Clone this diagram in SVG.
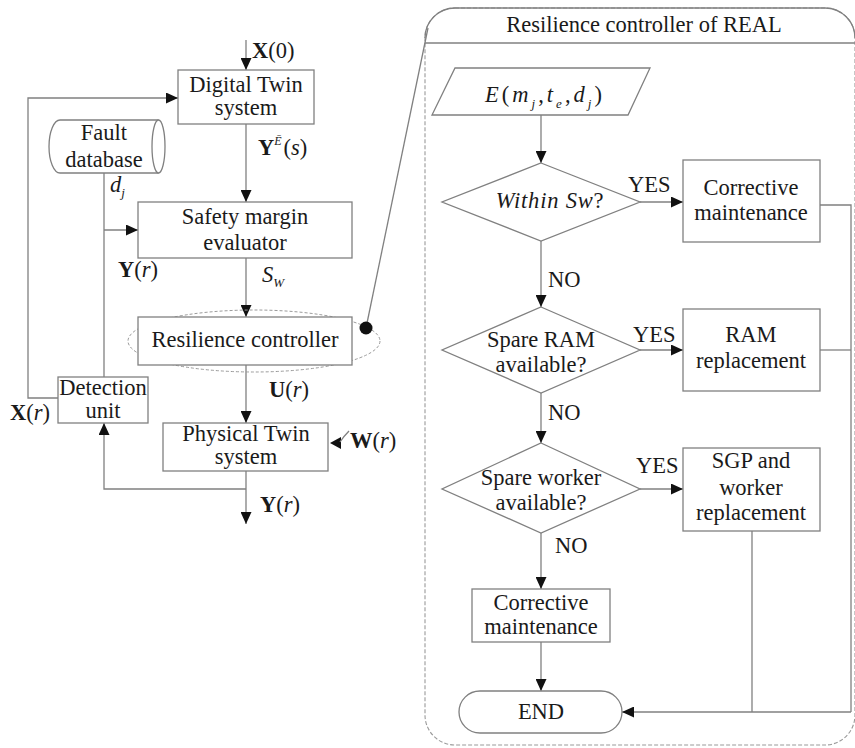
<svg xmlns="http://www.w3.org/2000/svg" width="855" height="748" viewBox="0 0 855 748" font-family="'Liberation Serif', 'DejaVu Serif', serif">
<defs>
  <marker id="arr" markerUnits="userSpaceOnUse" markerWidth="12" markerHeight="11" refX="12" refY="5.5" orient="auto">
    <path d="M0,0 L12,5.5 L0,11 z" fill="#111"/>
  </marker>
  <style>
    .box { fill: #fff; stroke: #808080; stroke-width: 1.3; }
    .ln { fill: none; stroke: #808080; stroke-width: 1.3; }
    .ar { fill: none; stroke: #808080; stroke-width: 1.3; marker-end: url(#arr); }
    text { font-family: 'Liberation Serif', 'DejaVu Serif', serif; font-size: 22.5px; fill: #1a1a1a; text-anchor: middle; }
    .s { text-anchor: start; }
    .b { font-weight: bold; }
    .i { font-style: italic; }
  </style>
</defs>
<rect width="855" height="748" fill="#fff"/>

<!-- controller panel frame -->
<g id="panel">
  <rect x="425" y="8" width="430" height="737" rx="30" ry="30" fill="none" stroke="#9a9a9a" stroke-width="1.1" stroke-dasharray="4,2"/>
  <path class="ln" d="M425,38 A30,30 0 0 1 455,8 H825 A30,30 0 0 1 855,38"/>
  <line class="ln" x1="425" y1="43" x2="855" y2="43"/>
  <text x="644" y="32">Resilience controller of REAL</text>
</g>

<!-- connectors -->
<g id="connectors">
  <line class="ar" x1="246" y1="40" x2="246" y2="70"/>
  <line class="ar" x1="246" y1="124" x2="246" y2="202"/>
  <line class="ar" x1="246" y1="258" x2="246" y2="317"/>
  <line class="ar" x1="246" y1="365" x2="246" y2="423"/>
  <line class="ar" x1="246" y1="471" x2="246" y2="524"/>
  <polyline class="ar" points="246,489 104,489 104,423"/>
  <polyline class="ar" points="58,398 28,398 28,98 178,98"/>
  <line class="ln" x1="104" y1="173" x2="104" y2="377"/>
  <line class="ar" x1="104" y1="230" x2="138" y2="230"/>
  <polygon points="330,443 341,437 341,449" fill="#111"/>
  <path class="ln" d="M340,442 Q344,436 349,431"/>
  <line class="ln" x1="366" y1="328" x2="428" y2="28"/>
  <line class="ar" x1="541" y1="115" x2="541" y2="163"/>
  <line class="ar" x1="541" y1="241" x2="541" y2="307"/>
  <line class="ar" x1="541" y1="393" x2="541" y2="443"/>
  <line class="ar" x1="541" y1="533" x2="541" y2="589"/>
  <line class="ar" x1="541" y1="642" x2="541" y2="691"/>
  <line class="ar" x1="640" y1="202" x2="683" y2="202"/>
  <line class="ar" x1="640" y1="350" x2="683" y2="350"/>
  <line class="ar" x1="640" y1="489" x2="683" y2="489"/>
  <polyline class="ln" points="820,205 851,205 851,712"/>
  <line class="ln" x1="820" y1="350" x2="851" y2="350"/>
  <line class="ln" x1="752" y1="531" x2="752" y2="712"/>
  <line class="ar" x1="851" y1="712" x2="622" y2="712"/>
</g>

<!-- edge labels -->
<g id="labels">
  <text class="s" x="252" y="58"><tspan class="b">X</tspan>(0)</text>
  <text class="s" x="258" y="155"><tspan class="b">Y</tspan><tspan class="i" font-size="12" dy="-10">Ē</tspan><tspan dy="10" dx="2">(</tspan><tspan class="i">s</tspan>)</text>
  <text class="s i" x="110" y="192">d<tspan font-size="13" dy="5">j</tspan></text>
  <text class="s" x="118" y="277"><tspan class="b">Y</tspan>(<tspan class="i">r</tspan>)</text>
  <text class="s i" x="262" y="282">S<tspan font-size="13" dy="5">W</tspan></text>
  <text class="s" x="269" y="397"><tspan class="b">U</tspan>(<tspan class="i">r</tspan>)</text>
  <text class="s" x="10" y="420"><tspan class="b">X</tspan>(<tspan class="i">r</tspan>)</text>
  <text class="s" x="350" y="448"><tspan class="b">W</tspan>(<tspan class="i">r</tspan>)</text>
  <text class="s" x="260" y="512"><tspan class="b">Y</tspan>(<tspan class="i">r</tspan>)</text>
  <text class="s" x="628" y="192">YES</text>
  <text class="s" x="633" y="342">YES</text>
  <text class="s" x="636" y="473">YES</text>
  <text class="s" x="548" y="287">NO</text>
  <text class="s" x="548" y="420">NO</text>
  <text class="s" x="555" y="553">NO</text>
</g>

<!-- left-side nodes -->
<g id="digital-twin">
  <rect class="box" x="178" y="70" width="136" height="54"/>
  <text x="246" y="92">Digital Twin</text>
  <text x="246" y="115">system</text>
</g>
<g id="fault-database">
  <path class="box" d="M60,120 H158 V173 H60 A11,26.5 0 0 1 60,120 z"/>
  <ellipse class="box" cx="158.5" cy="146.5" rx="6.5" ry="26.5"/>
  <text x="104" y="140">Fault</text>
  <text x="104" y="167">database</text>
</g>
<g id="safety-margin">
  <rect class="box" x="138" y="202" width="214" height="56"/>
  <text x="245" y="224">Safety margin</text>
  <text x="245" y="250">evaluator</text>
</g>
<g id="resilience-controller">
  <ellipse cx="254" cy="341" rx="126" ry="31" fill="none" stroke="#9a9a9a" stroke-width="1" stroke-dasharray="3,2"/>
  <rect class="box" x="138" y="317" width="214" height="48"/>
  <text x="245" y="347">Resilience controller</text>
</g>
<g id="detection-unit">
  <rect class="box" x="58" y="377" width="90" height="46"/>
  <text x="103" y="395" font-size="20">Detection</text>
  <text x="103" y="418" font-size="20">unit</text>
</g>
<g id="physical-twin">
  <rect class="box" x="163" y="423" width="165" height="48"/>
  <text x="246" y="441">Physical Twin</text>
  <text x="246" y="464">system</text>
</g>
<circle cx="366" cy="328" r="6.5" fill="#111"/>

<!-- controller flow nodes -->
<g id="event-input">
  <polygon class="box" points="455,68 650,68 628,115 432,115"/>
  <text class="i" x="545" y="102" font-size="27" letter-spacing="3">E<tspan font-style="normal">(</tspan>m<tspan font-size="13" dy="6">j</tspan><tspan dy="-6" font-style="normal">,</tspan>t<tspan font-size="13" dy="6">e</tspan><tspan dy="-6" font-style="normal">,</tspan>d<tspan font-size="13" dy="6">j</tspan><tspan dy="-6" font-style="normal">)</tspan></text>
</g>
<g id="within-sw">
  <polygon class="box" points="541,163 640,202 541,241 442,202"/>
  <text x="550" y="208" font-size="24" letter-spacing="0.8"><tspan class="i">Within Sw</tspan>?</text>
</g>
<g id="corrective-1">
  <rect class="box" x="683" y="160" width="137" height="82"/>
  <text x="751" y="195">Corrective</text>
  <text x="751" y="220">maintenance</text>
</g>
<g id="spare-ram">
  <polygon class="box" points="541,307 640,350 541,393 442,350"/>
  <text x="541" y="347">Spare RAM</text>
  <text x="541" y="372">available?</text>
</g>
<g id="ram-replacement">
  <rect class="box" x="683" y="309" width="137" height="82"/>
  <text x="751" y="342">RAM</text>
  <text x="751" y="368">replacement</text>
</g>
<g id="spare-worker">
  <polygon class="box" points="541,443 640,489 541,533 442,489"/>
  <text x="541" y="485">Spare worker</text>
  <text x="541" y="510">available?</text>
</g>
<g id="sgp-replacement">
  <rect class="box" x="683" y="448" width="137" height="83"/>
  <text x="751" y="468">SGP and</text>
  <text x="751" y="495">worker</text>
  <text x="751" y="520">replacement</text>
</g>
<g id="corrective-2">
  <rect class="box" x="472" y="589" width="138" height="53"/>
  <text x="541" y="610">Corrective</text>
  <text x="541" y="634">maintenance</text>
</g>
<g id="end">
  <rect class="box" x="459" y="691" width="163" height="42" rx="21" ry="21"/>
  <text x="541" y="719">END</text>
</g>
</svg>
